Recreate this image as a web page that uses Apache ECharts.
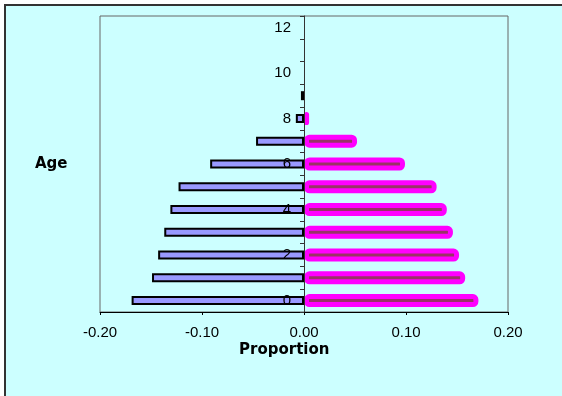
<!DOCTYPE html>
<html>
<head>
<meta charset="utf-8">
<script src="https://cdn.jsdelivr.net/npm/echarts@6/dist/echarts.min.js"></script>
<style>
  html, body { margin: 0; padding: 0; background: #ffffff; }
  #chart { width: 562px; height: 396px; }
</style>
</head>
<body>
<div id="chart"></div>
<script>
// Age groups on the vertical category axis
const ages = ['0', '1', '2', '3', '4', '5', '6', '7', '8', '9', '10', '11', '12'];
// Proportions for the left side (plotted as negatives)
const leftValues = [-0.169, -0.149, -0.143, -0.137, -0.131, -0.123, -0.092, -0.047, -0.008, -0.003, '-', '-', '-'];
// Proportions for the right side
const rightValues = [0.171, 0.158, 0.152, 0.146, 0.140, 0.130, 0.099, 0.052, 0.005, '-', '-', '-', '-'];
// Horizontal axis range and step
const xMin = -0.2, xMax = 0.2, xStep = 0.1;

const chart = echarts.init(document.getElementById('chart'), null, { renderer: 'canvas' });

const labelFont = { fontFamily: 'Liberation Sans, Arial, sans-serif', fontSize: 15, color: '#000' };

const gridLeft = 100, gridRight = 54;
const plotWidth = 562 - gridLeft - gridRight;
// shift the category axis so it sits on the zero of the value axis
const zeroShift = plotWidth * (0 - xMin) / (xMax - xMin);

chart.setOption({
  backgroundColor: '#ffffff',
  animation: false,
  graphic: [
    {
      type: 'rect', z: -10, silent: true,
      shape: { x: 5, y: 5, width: 620, height: 460 },
      style: { fill: '#CCFFFF', stroke: '#333333', lineWidth: 2 }
    },
    {
      type: 'text', left: 35, top: 157,
      style: { text: 'Age', font: 'bold 15px "DejaVu Sans", sans-serif', fill: '#000' }
    },
    {
      type: 'text', left: 239, top: 343,
      style: { text: 'Proportion', font: 'bold 15px "DejaVu Sans", sans-serif', fill: '#000' }
    }
  ],
  grid: {
    left: gridLeft, right: gridRight, top: 16, bottom: 84,
    show: true, borderColor: '#666666', borderWidth: 1, backgroundColor: 'transparent'
  },
  xAxis: {
    type: 'value',
    min: xMin, max: xMax, interval: xStep,
    axisLine: { show: true, lineStyle: { color: '#000', width: 1 } },
    axisTick: { show: true, length: 3, lineStyle: { color: '#000' } },
    splitLine: { show: false },
    axisLabel: Object.assign({ margin: 13, formatter: v => v.toFixed(2) }, labelFont)
  },
  yAxis: [
    {
      type: 'category',
      data: ages,
      boundaryGap: true,
      offset: -zeroShift,
      z: 10,
      axisLine: { show: true, onZero: false, lineStyle: { color: '#333', width: 1 } },
      axisTick: { show: true, interval: 0, length: 4, lineStyle: { color: '#333' } },
      axisLabel: Object.assign({ interval: 1, margin: 13 }, labelFont),
      splitLine: { show: false }
    },
    {
      // twin axis so each side's bars are centred on their own category
      type: 'category',
      data: ages,
      boundaryGap: true,
      show: false,
      position: 'left'
    }
  ],
  series: [
    {
      name: 'Female',
      type: 'bar',
      yAxisIndex: 1,
      data: rightValues,
      barWidth: 13,
      itemStyle: { color: '#993366', borderColor: '#FF00FF', borderWidth: 5, borderRadius: 3, borderJoin: 'round' }
    },
    {
      name: 'Male',
      type: 'bar',
      yAxisIndex: 0,
      data: leftValues,
      barWidth: 9,
      itemStyle: { color: '#9999FF', borderColor: '#000000', borderWidth: 2 }
    }
  ]
});
</script>
</body>
</html>
